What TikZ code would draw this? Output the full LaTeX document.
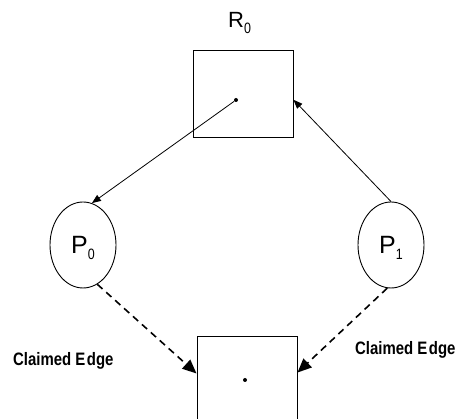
\documentclass[tikz,border=0pt]{standalone}
\usepackage{fontspec}
\setmainfont{Liberation Sans}
\newfontfamily\narrowfont[FakeStretch=0.83]{Liberation Sans}
\usetikzlibrary{arrows.meta,shapes.geometric}
\begin{document}
\begin{tikzpicture}[x=1pt,y=-1pt,
  box/.style={draw,line width=1pt,rectangle,inner sep=0pt},
  proc/.style={draw,line width=0.9pt,ellipse,inner sep=0pt,minimum width=66pt,minimum height=86pt,
    font=\fontsize{25}{25}\selectfont,text height=18pt,text depth=0pt},
  dot/.style={circle,fill,inner sep=0pt,minimum size=4pt},
  rlab/.style={font=\fontsize{22}{22}\selectfont,inner sep=0pt},
  claim/.style={font=\fontsize{18}{18}\selectfont\narrowfont\bfseries,inner sep=0pt},
  solidarrow/.style={draw,line width=0.8pt,-{Triangle[length=9pt,width=7pt]}},
  dasharrow/.style={draw,line width=1.6pt,dash pattern=on 7pt off 5pt,-{Triangle[length=14pt,width=12pt]}}
]
\clip (0,0) rectangle (456,419);
\fill[white] (0,0) rectangle (456,419);
% resources
\node[box,minimum width=100pt,minimum height=87pt] (R0box) at (243,94.5) {};
\node[rlab,anchor=base west] (R0lab) at (228,28) {R\raisebox{-6pt}{\fontsize{15}{15}\narrowfont 0}};
\node[dot] (dotA) at (236,100) {};
\node[box,minimum width=100pt,minimum height=100pt] (R1box) at (247,387) {};
\node[dot] (dotB) at (245,380) {};
% processes
\node[proc] (P0) at (83,245) {P\raisebox{-6pt}{\fontsize{15}{15}\narrowfont 0}};
\node[proc] (P1) at (391,245) {P\raisebox{-6pt}{\fontsize{15}{15}\narrowfont 1}};
% edges
\draw[solidarrow] (dotA) -- (P0.78);
\draw[solidarrow] (P1.north) -- (R0box.-6);
\draw[dasharrow] (P0.-70) -- (R1box.165);
\draw[dasharrow] (P1.-95) -- (R1box.16);
% labels
\node[claim,anchor=base west] (c1) at (13,366) {Claimed E\kern1.5pt dge};
\node[claim,anchor=base west] (c2) at (355,355) {Claimed E\kern1.5pt dge};
\end{tikzpicture}
\end{document}
